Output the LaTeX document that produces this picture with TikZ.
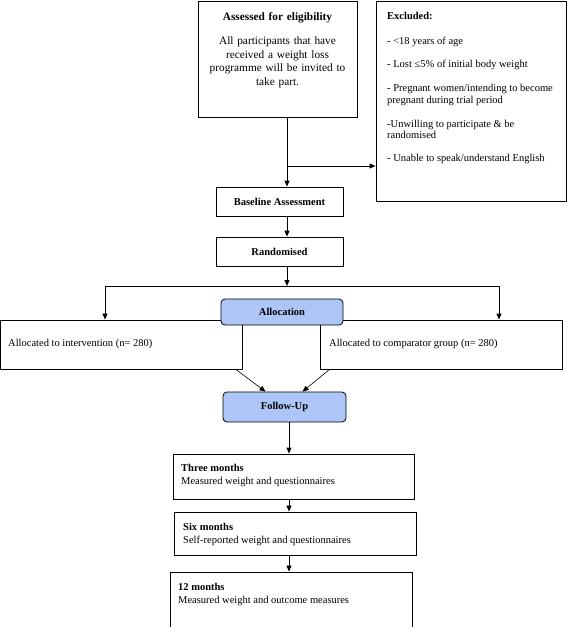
\documentclass[tikz,border=0pt]{standalone}
\usepackage{fontspec}
\setmainfont{Liberation Serif}
\usetikzlibrary{arrows.meta,positioning}
\definecolor{phaseblue}{RGB}{174,198,247}

\begin{document}
\begin{tikzpicture}[x=1pt,y=-1pt,
    every node/.style={font=\fontsize{10.5}{13.3}\selectfont},
    box/.style={draw, rectangle, line width=0.8pt, inner sep=0pt},
    head/.style={box, font=\fontsize{10.5}{13.3}\selectfont\bfseries},
    phase/.style={head, rounded corners=4pt, fill=phaseblue},
    txt/.style={inner sep=0pt, align=left},
    arr/.style={-{Triangle[length=6pt,width=5pt]}, line width=0.9pt}]

        \useasboundingbox (0,0) rectangle (567,627);
        \clip (0,0) rectangle (567,627);

        % boxes
        \node[box, minimum width=159, minimum height=116] (assess) at (277.5,59) {};
        \node[box, minimum width=190, minimum height=200] (excl)   at (471,101)  {};
        \node[head, minimum width=127, minimum height=29] (base)   at (279.5,201.5) {Baseline Assessment};
        \node[head, minimum width=127, minimum height=29] (rand)   at (279.5,251.5) {Randomised};
        \node[box, minimum width=242, minimum height=49]  (intv)   at (121.4,344.5) {};
        \node[box, minimum width=242, minimum height=49]  (comp)   at (441,344.5) {};
        \node[phase, minimum width=122, minimum height=26] (alloc) at (282,312) {Allocation};
        \node[phase, minimum width=123, minimum height=30] (follow) at (284.5,407) {Follow-Up};
        \node[box, minimum width=241, minimum height=45]  (three)  at (293.5,476.5) {};
        \node[box, minimum width=242, minimum height=43]  (six)    at (295,533.5) {};
        \node[box, minimum width=242, minimum height=62]  (twelve) at (291,603) {};

        % texts
        \node[txt, anchor=north, align=center, text width=158,
              font=\fontsize{11.3}{13.6}\selectfont] (assesstxt) at (277.5,12)
          {\textbf{Assessed for eligibility}\\[11pt]
           All participants that have\\ received a weight loss\\
           programme will be invited to\\ take part.};
        \node[txt, anchor=north west, font=\fontsize{10.5}{12}\selectfont] (excltxt) at (387,12.5)
          {\textbf{Excluded:}\\[13pt]
           - <18 years of age\\[11pt]
           - Lost ≤5\% of initial body weight\\[12pt]
           - Pregnant women/intending to become\\ pregnant during trial period\\[12pt]
           -Unwilling to participate \& be\\[-1pt] randomised\\[11pt]
           - Unable to speak/understand English};
        \node[txt, anchor=base west] (intvtxt) at (8,346.5) {Allocated to intervention (n= 280)};
        \node[txt, anchor=base west] (comptxt) at (329,346.5) {Allocated to comparator group (n= 280)};
        \node[txt, anchor=north west] (threetxt) at (181,464)
          {\textbf{Three months}\\ Measured weight and questionnaires};
        \node[txt, anchor=north west] (sixtxt) at (183,523)
          {\textbf{Six months}\\ Self-reported weight and questionnaires};
        \node[txt, anchor=north west] (twelvetxt) at (178,583)
          {\textbf{12 months}\\ Measured weight and outcome measures};

        % connectors
        \coordinate (spine)  at (287,0);
        \coordinate (spine2) at (289,0);
        \coordinate (branch) at (287,166);
        \coordinate (split)  at (287,286);
        \coordinate (lsplit) at (105,286);
        \coordinate (rsplit) at (499,286);

        \draw[arr] (assess.south -| spine) -- (base.north -| spine);
        \draw[arr] (branch) -- (branch -| excl.west);
        \draw[arr] (base.south -| spine) -- (rand.north -| spine);
        \draw[arr] (rand.south -| spine) -- (split);
        \draw[arr] (rsplit) -- (lsplit) -- (lsplit |- intv.north);
        \draw[arr] (rsplit) -- (rsplit |- comp.north);
        \draw[arr, line width=0.6pt] ([xshift=-7pt]intv.south east) -- ([xshift=-19pt]follow.north);
        \draw[arr, line width=0.6pt] ([xshift=10pt]comp.south west) -- ([xshift=18pt]follow.north);
        \draw[arr] (follow.south -| spine2) -- (three.north -| spine2);
        \draw[arr] (three.south -| spine2) -- (six.north -| spine2);
        \draw[arr] (six.south -| spine2) -- (twelve.north -| spine2);

      \end{tikzpicture}
\end{document}
